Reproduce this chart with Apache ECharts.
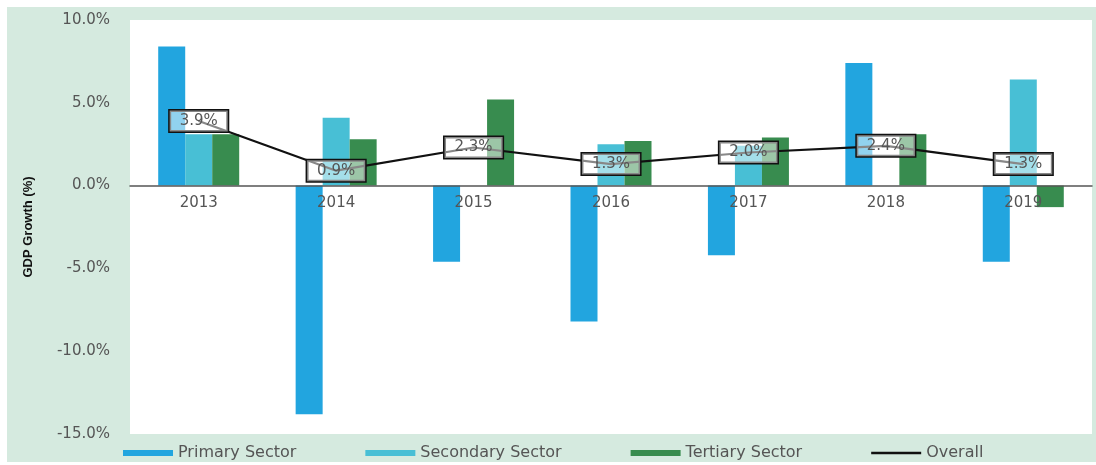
<!DOCTYPE html>
<html>
<head>
<meta charset="utf-8">
<script src="https://cdn.jsdelivr.net/npm/echarts@6/dist/echarts.min.js"></script>
<style>
  html, body { margin: 0; padding: 0; background: #ffffff; }
  #chart { position: absolute; left: 7px; top: 7px; width: 1089px; height: 455px; background: #d5eadf; }
</style>
</head>
<body>
<div id="chart"></div>
<script>
const years = ['2013', '2014', '2015', '2016', '2017', '2018', '2019']
const primarySector = [8.4, -13.8, -4.6, -8.2, -4.2, 7.4, -4.6]
const secondarySector = [3.1, 4.1, 0, 2.5, 2.4, 0, 6.4]
const tertiarySector = [3.1, 2.8, 5.2, 2.7, 2.9, 3.1, -1.3]
const overall = [3.9, 0.9, 2.3, 1.3, 2.0, 2.4, 1.3]

const font = 'DejaVu Sans'
const textColor = '#555555'

const chart = echarts.init(document.getElementById('chart'))

const barSeries = (name, data, color) => ({
  name: name,
  type: 'bar',
  data: data,
  barWidth: 27,
  barGap: '0%',
  itemStyle: { color: color }
})

chart.setOption({
  animation: false,
  textStyle: { fontFamily: font },
  grid: {
    left: 123,
    right: 4,
    top: 13,
    bottom: 28,
    show: true,
    backgroundColor: '#ffffff',
    borderWidth: 0
  },
  legend: {
    left: 116,
    bottom: 1,
    padding: 0,
    itemWidth: 50,
    itemHeight: 6,
    itemGap: 69,
    textStyle: { color: textColor, fontSize: 16, fontFamily: font },
    data: [
      { name: 'Primary Sector', icon: 'rect' },
      { name: 'Secondary Sector', icon: 'rect' },
      { name: 'Tertiary Sector', icon: 'rect' },
      { name: 'Overall', icon: 'path://M0,0 L50,0 L50,2.5 L0,2.5 Z' }
    ]
  },
  xAxis: {
    type: 'category',
    data: years,
    z: 5,
    axisLine: { onZero: false, lineStyle: { color: '#555', width: 1.5 } },
    axisTick: { show: false },
    axisLabel: { color: textColor, fontSize: 15, margin: 10 }
  },
  yAxis: {
    type: 'value',
    min: -15,
    max: 10,
    interval: 5,
    name: 'GDP Growth (%)',
    nameLocation: 'middle',
    nameRotate: 90,
    nameGap: 95,
    nameTextStyle: { fontFamily: 'Liberation Sans', fontWeight: 'bold', fontSize: 13, color: '#111' },
    axisLine: { show: false },
    axisTick: { show: false },
    splitLine: { show: false },
    axisLabel: {
      color: textColor,
      fontSize: 15,
      margin: 20,
      formatter: v => v.toFixed(1) + '%'
    }
  },
  series: [
    barSeries('Primary Sector', primarySector, '#22a5df'),
    barSeries('Secondary Sector', secondarySector, '#48bfd5'),
    barSeries('Tertiary Sector', tertiarySector, '#388c4f'),
    {
      name: 'Overall',
      type: 'line',
      data: overall,
      symbol: 'circle',
      symbolSize: 1,
      showSymbol: true,
      z: 6,
      itemStyle: { color: '#111' },
      lineStyle: { color: '#111', width: 2.2 },
      label: {
        show: true,
        position: 'inside',
        formatter: p => p.value.toFixed(1) + '%',
        color: textColor,
        fontSize: 15,
        backgroundColor: 'rgba(255,255,255,0.5)',
        borderColor: '#111',
        borderWidth: 1.5,
        padding: [3, 10]
      }
    }
  ]
})

// move the category axis (line and labels) up to the zero value
const zeroY = chart.convertToPixel({ yAxisIndex: 0 }, 0)
const bottomY = chart.convertToPixel({ yAxisIndex: 0 }, -15)
chart.setOption({ xAxis: { offset: -(bottomY - zeroY) } })
</script>
</body>
</html>
